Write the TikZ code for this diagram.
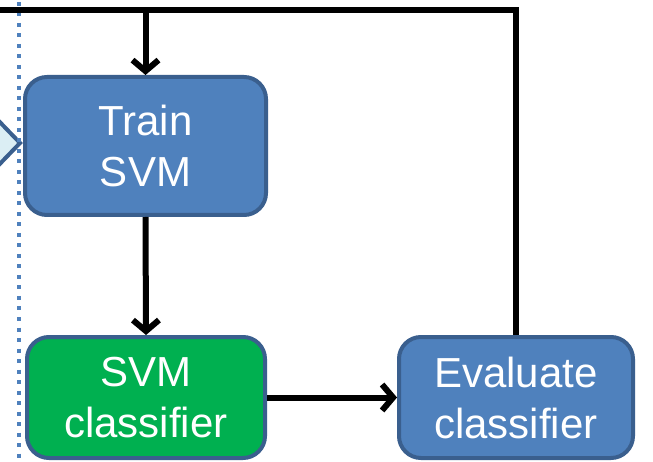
\documentclass[tikz,border=0pt]{standalone}
\usepackage{fontspec}
\setmainfont{Liberation Sans}
\usetikzlibrary{arrows.meta}
\definecolor{boxblue}{HTML}{4F81BD}
\definecolor{boxborder}{HTML}{3A5F8E}
\definecolor{boxgreen}{HTML}{00B050}
\definecolor{chevfill}{HTML}{DBEEF4}
\tikzset{
  procbox/.style={draw=boxborder, line width=4pt, rounded corners=22pt, inner sep=0pt,
    text=white, align=center, font=\fontsize{42}{51}\selectfont},
  flowarrow/.style={line width=6pt, black, -{Straight Barb[length=11pt,width=26pt]}},
  flowline/.style={line width=6pt, black, line join=miter},
  sepline/.style={line width=4pt, boxblue, dash pattern=on 4pt off 6.5pt},
  chevron/.style={fill=chevfill, draw=boxborder, line width=4pt, line join=miter}
}
\begin{document}
\begin{tikzpicture}[x=1pt,y=-1pt]
\useasboundingbox (0,0) rectangle (653,462);
\clip (0,0) rectangle (653,462);
\fill[white] (0,0) rectangle (653,462);
% chevron arrow coming from the left
\draw[chevron] (-60,60) -- (20,143) -- (-60,226) -- cycle;
% dotted separator
\draw[sepline] (19,2) -- (19,470);
% boxes
\node[procbox, fill=boxblue, minimum width=241pt, minimum height=138pt] (train) at (145.5,146) {Train\\SVM};
\node[procbox, fill=boxgreen, minimum width=238pt, minimum height=121pt] (svm) at (146,397.5) {SVM\\classifier};
\node[procbox, fill=boxblue, minimum width=234pt, minimum height=121pt] (eval) at (516,397.5) {Evaluate\\classifier};
% feedback loop
\coordinate (corner) at (516,10.5);
\coordinate (leftend) at (-5,10.5);
\coordinate (tap) at (145.5,10.5);
\draw[flowline] (eval.north) -- (corner) -- (leftend);
\draw[flowarrow] (tap) -- (train.north);
\draw[flowarrow] (train.south) -- (svm.north);
\draw[flowarrow] (svm.east) -- (eval.west);
\end{tikzpicture}
\end{document}
